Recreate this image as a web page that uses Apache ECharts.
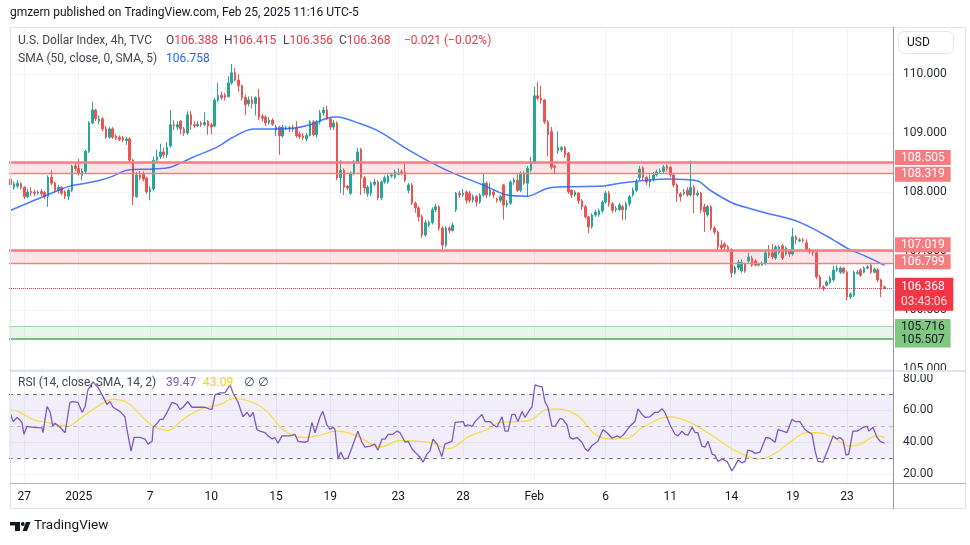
<!DOCTYPE html>
<html><head><meta charset="utf-8">
<script src="https://cdn.jsdelivr.net/npm/echarts@6/dist/echarts.min.js"></script>
<style>html,body{margin:0;padding:0;background:#fff}#c{width:970px;height:545px}</style>
</head><body><div id="c"></div>
<script>
// ---------- data ----------
const tickIndex = [4, 20, 41, 59, 78, 94, 114, 133, 154, 175, 194, 212, 230, 246];
const tickText  = ['27', '2025', '7', '10', '15', '19', '23', '28', 'Feb', '6', '11', '14', '19', '23'];
const barSlots = 260;
// [open, close, low, high]
const candles = [
[108.22,108.12,108.05,108.25],[108.08,108.14,108.04,108.18],[108.10,108.15,108.06,108.20],[108.14,108.08,108.04,108.17],
[108.08,107.92,107.88,108.10],[107.92,108.00,107.90,108.05],[108.01,107.99,107.94,108.08],[108.00,107.98,107.93,108.04],
[107.98,108.00,107.95,108.03],[108.01,107.97,107.93,108.05],[107.99,107.92,107.88,108.02],[107.92,108.25,107.75,108.28],
[108.25,108.15,108.12,108.37],[108.15,108.03,107.98,108.18],[108.03,108.08,107.97,108.12],[108.08,107.98,107.95,108.10],
[108.00,107.93,107.88,108.03],[107.93,108.03,107.86,108.06],[108.03,108.44,108.00,108.46],[108.44,108.40,108.35,108.50],
[108.40,108.32,108.28,108.56],[108.28,108.35,108.20,108.40],[108.35,108.69,108.32,108.72],[108.69,109.17,108.66,109.20],
[109.17,109.39,109.15,109.53],[109.39,109.24,109.20,109.41],[109.20,109.24,109.15,109.30],[109.24,109.07,109.03,109.27],
[109.07,108.93,108.90,109.12],[108.93,109.07,108.90,109.10],[109.07,108.93,108.90,109.10],[108.95,108.91,108.88,108.98],
[108.93,108.89,108.86,108.96],[108.92,108.88,108.85,108.95],[108.87,108.90,108.80,108.93],[108.90,108.54,108.50,108.93],
[108.54,107.92,107.78,108.56],[107.92,108.29,107.90,108.34],[108.29,108.24,108.20,108.36],[108.30,108.22,108.18,108.35],
[108.24,108.00,107.97,108.26],[108.00,108.05,107.86,108.10],[108.05,108.54,108.02,108.60],[108.54,108.60,108.50,108.72],
[108.60,108.68,108.56,108.82],[108.68,108.63,108.58,108.75],[108.63,108.76,108.58,108.85],[108.78,109.14,108.75,109.39],
[109.14,109.12,109.05,109.22],[109.10,109.14,109.05,109.20],[109.20,109.07,108.98,109.22],[109.07,109.00,108.95,109.10],
[109.00,109.31,108.97,109.37],[109.31,109.14,109.05,109.37],[109.14,109.12,109.08,109.20],[109.12,109.15,109.10,109.20],
[109.17,109.14,109.10,109.20],[109.14,109.18,109.12,109.35],[109.20,109.12,108.97,109.22],[109.14,109.10,108.98,109.17],
[109.12,109.56,109.10,109.60],[109.56,109.64,109.52,109.85],[109.64,109.60,109.56,109.70],[109.64,109.60,109.55,109.68],
[109.62,109.85,109.60,109.96],[109.85,110.02,109.82,110.17],[110.02,109.90,109.88,110.10],[109.90,109.80,109.70,110.00],
[109.80,109.60,109.55,109.82],[109.60,109.48,109.30,109.65],[109.50,109.56,109.45,109.62],[109.56,109.50,109.42,109.62],
[109.50,109.60,109.30,109.62],[109.60,109.27,109.22,109.75],[109.28,109.25,109.20,109.32],[109.27,109.17,109.12,109.30],
[109.17,109.22,109.14,109.27],[109.22,109.15,109.12,109.25],[109.05,109.10,108.95,109.14],[109.10,108.95,108.63,109.12],
[108.95,109.10,108.92,109.14],[109.08,109.09,109.05,109.12],[109.09,109.07,109.02,109.12],[109.06,109.09,109.02,109.14],
[109.09,108.95,108.92,109.20],[108.98,108.94,108.90,109.02],[108.95,108.92,108.88,109.00],[108.90,108.96,108.86,109.00],
[108.96,109.19,108.94,109.22],[109.19,108.97,108.94,109.22],[108.97,109.19,108.92,109.22],[109.19,109.34,109.15,109.39],
[109.34,109.39,109.30,109.44],[109.39,109.24,109.22,109.46],[109.24,109.10,109.05,109.27],[109.10,109.17,109.05,109.22],
[109.17,108.24,108.20,109.20],[108.24,108.37,107.98,108.54],[108.37,108.08,107.95,108.40],[108.10,108.07,108.03,108.12],
[107.98,108.32,107.95,108.35],[108.32,108.51,108.28,108.54],[108.51,108.68,108.48,108.75],[108.72,108.24,107.95,108.75],
[108.24,108.07,107.98,108.27],[107.97,108.08,107.92,108.12],[107.98,108.15,107.93,108.18],[108.13,108.17,108.10,108.22],
[108.17,107.90,107.86,108.20],[107.90,108.17,107.86,108.20],[108.17,108.24,108.14,108.28],[108.17,108.27,108.14,108.30],
[108.27,108.29,108.24,108.32],[108.25,108.34,108.22,108.38],[108.30,108.32,108.28,108.40],[108.34,108.32,108.28,108.38],
[108.34,108.20,108.17,108.51],[108.03,108.12,107.98,108.15],[108.12,107.81,107.78,108.15],[107.81,107.73,107.65,107.84],
[107.73,107.58,107.50,107.76],[107.58,107.27,107.22,107.62],[107.27,107.48,107.24,107.53],[107.44,107.48,107.40,107.52],
[107.48,107.70,107.45,107.74],[107.70,107.75,107.66,107.80],[107.75,107.39,107.35,107.78],[107.39,107.10,106.98,107.42],
[107.10,107.39,107.06,107.42],[107.39,107.35,107.30,107.42],[107.35,107.44,107.33,107.48],[107.70,107.98,107.66,108.00],
[107.98,107.95,107.90,108.02],[107.95,107.98,107.92,108.05],[108.00,107.86,107.80,108.03],[107.98,107.86,107.82,108.02],
[107.86,107.92,107.82,107.96],[107.92,107.83,107.76,107.95],[107.83,107.95,107.80,107.98],[107.95,108.15,107.92,108.32],
[108.15,107.95,107.90,108.18],[107.95,108.03,107.92,108.15],[108.00,107.95,107.90,108.05],[107.88,107.86,107.82,107.90],
[107.86,107.92,107.82,107.95],[108.12,107.78,107.53,108.14],[107.78,107.81,107.74,107.86],[107.81,108.17,107.78,108.20],
[108.17,108.20,108.12,108.24],[108.20,108.03,108.00,108.30],[108.03,108.32,108.00,108.35],[108.32,108.15,108.12,108.35],
[108.15,108.40,107.92,108.44],[108.37,108.51,108.34,108.60],[108.51,109.63,108.48,109.78],[109.63,109.59,109.55,109.86],
[109.59,109.56,109.50,109.80],[109.56,109.19,109.15,109.58],[109.19,108.97,108.60,109.22],[109.02,108.42,108.38,109.10],
[108.44,108.42,108.32,108.46],[108.70,108.75,108.65,109.03],[108.72,108.75,108.68,108.78],[108.75,108.63,108.58,108.78],
[108.66,108.00,107.97,108.68],[108.03,107.95,107.90,108.05],[107.95,108.00,107.92,108.03],[107.98,107.85,107.80,108.00],
[107.85,107.75,107.70,107.88],[107.75,107.58,107.55,107.78],[107.58,107.41,107.30,107.60],[107.41,107.61,107.38,107.64],
[107.61,107.66,107.58,107.70],[107.62,107.68,107.58,107.72],[107.68,107.83,107.65,107.86],[107.83,107.98,107.80,108.02],
[107.98,107.80,107.75,108.02],[107.80,107.69,107.65,107.83],[107.70,107.72,107.66,107.76],[107.70,107.78,107.68,107.82],
[107.75,107.70,107.52,107.78],[107.70,107.80,107.53,107.84],[107.80,107.92,107.76,107.95],[107.95,108.03,107.92,108.08],
[108.03,108.17,108.00,108.22],[108.24,108.39,108.20,108.44],[108.41,108.25,108.20,108.44],[108.25,108.17,108.12,108.28],
[108.17,108.20,108.08,108.30],[108.22,108.29,108.18,108.34],[108.29,108.34,108.26,108.38],[108.34,108.36,108.32,108.40],
[108.35,108.42,108.32,108.46],[108.44,108.40,108.35,108.47],[108.42,108.29,108.25,108.44],[108.29,108.12,108.08,108.32],
[108.12,107.97,107.83,108.15],[107.97,107.92,107.84,108.00],[107.97,108.00,107.94,108.05],[108.03,107.95,107.92,108.08],
[107.95,108.08,107.92,108.53],[108.08,107.95,107.64,108.12],[107.95,107.98,107.92,108.03],[107.98,107.70,107.64,108.00],
[107.75,107.66,107.32,107.80],[107.61,107.75,107.58,107.78],[107.75,107.39,107.35,107.78],[107.39,107.32,107.28,107.42],
[107.32,107.07,107.03,107.35],[107.10,107.05,107.00,107.18],[107.12,107.07,107.02,107.15],[107.07,107.02,106.98,107.10],
[107.02,106.63,106.55,107.05],[106.63,106.72,106.60,106.75],[106.72,106.81,106.68,106.85],[106.66,106.81,106.63,106.86],
[106.78,106.66,106.63,106.80],[106.83,106.90,106.80,106.97],[106.88,106.76,106.73,106.92],[106.83,106.76,106.74,106.86],
[106.76,106.78,106.74,106.80],[106.76,106.79,106.75,106.82],[106.79,106.97,106.76,107.00],[106.97,106.93,106.88,107.10],
[106.97,106.90,106.86,107.12],[106.88,107.07,106.85,107.10],[106.97,107.07,106.94,107.10],[107.09,106.88,106.85,107.12],
[106.95,107.05,106.92,107.08],[107.00,106.95,106.90,107.03],[106.95,107.24,106.92,107.39],[107.24,107.19,107.12,107.27],
[107.17,107.19,107.15,107.22],[107.19,107.18,107.14,107.22],[107.14,107.02,106.99,107.20],[107.02,106.99,106.95,107.05],
[107.00,106.97,106.92,107.02],[106.97,106.56,106.52,107.00],[106.56,106.39,106.35,106.60],[106.39,106.36,106.32,106.42],
[106.42,106.47,106.40,106.50],[106.47,106.54,106.44,106.58],[106.51,106.68,106.48,106.75],[106.68,106.71,106.65,106.76],
[106.64,106.71,106.61,106.74],[106.71,106.64,106.61,106.73],[106.64,106.22,106.16,106.67],[106.22,106.27,106.18,106.30],
[106.25,106.64,106.22,106.67],[106.62,106.64,106.60,106.68],[106.68,106.59,106.56,106.71],[106.64,106.71,106.62,106.74],
[106.71,106.73,106.69,106.76],[106.76,106.64,106.61,106.80],[106.64,106.69,106.62,106.72],[106.68,106.51,106.47,106.71],
[106.51,106.39,106.22,106.53],[106.388,106.368,106.356,106.415]
];
// SMA (50, close, 0, SMA, 5): [barIndex, value]
const smaPoints = [[0,107.69],[10.7,107.95],[17.4,108.10],[21.3,108.14],[26.3,108.20],[30.1,108.27],[34.2,108.37],[41.9,108.39],[46.9,108.42],[53.6,108.59],[60.7,108.76],[65.1,108.92],[71.3,109.07],[77.1,109.07],[83,109.08],[88,109.14],[93,109.25],[96,109.27],[102.7,109.16],[108.6,109.02],[115.4,108.77],[123.3,108.51],[130.1,108.32],[138.9,108.12],[146,107.95],[152.1,107.93],[157.7,108.06],[164.5,108.09],[174.2,108.10],[179.2,108.15],[193,108.22],[201.9,108.19],[205.7,108.03],[212.4,107.81],[217.4,107.72],[222.4,107.64],[230.1,107.53],[236,107.38],[241.9,107.19],[246,107.05],[251.9,106.90],[257,106.758]];
// RSI (14): [barIndex, value]
const rsiPoints = [[0,57.5],[0.7,53],[1.9,55.6],[2.7,54],[3.3,52.5],[3.9,45],[4.8,50],[6.6,49.4],[9.2,49],[9.5,46],[10.7,62.5],[11.6,59],[12.4,50],[13,52],[14.5,49.4],[16,46],[17.4,65],[18.3,65.6],[19.8,65],[21,58.8],[21.9,62.5],[22.7,73],[24.2,78],[25.7,74.4],[27.1,69],[28.3,63.8],[29.2,65.6],[30.1,62],[32.1,59.4],[33.6,56],[34.2,48],[35.4,34.4],[36.3,43],[38,43],[39.5,42],[40.4,38.8],[41.6,40.6],[41.9,49.4],[43.3,52.5],[43.9,54.4],[44.8,54.4],[46,58.8],[47.4,65],[48.9,63.8],[49.8,60.6],[50.7,62],[52.1,65.6],[53.3,62],[55.7,62],[57.1,62],[58.3,61],[59.2,60.6],[60.1,70],[61.6,71],[63,71],[64.5,76],[65.4,71],[66.9,65],[68.3,56],[69.5,58.8],[70.4,56],[71.3,58.8],[72.4,48],[73.3,47],[74.8,46],[75.7,44],[76.9,42],[77.7,43],[78.6,39.4],[79.8,44],[82.1,44],[83.6,45],[84.5,40.6],[86.6,40],[87.4,40.6],[88.6,52.5],[89.5,46],[91,56],[91.8,59.4],[93,51],[93.9,48],[94.8,49.4],[95.4,48],[96.3,29.4],[97.1,33.8],[98,29.4],[99.2,30],[100.4,36.9],[102.1,47],[103.3,40],[104.2,36.9],[105.7,37.5],[107.1,38.8],[108,35],[109.2,42],[110.1,42],[111,45],[112.4,45],[113.6,47],[114.5,46],[116,40],[116.9,40.6],[118.1,35.6],[119.5,32.5],[120.4,30.6],[121.3,27.5],[122.4,32.5],[123.3,34.4],[124.2,42],[125.4,38.8],[126.8,31],[127.7,38.8],[129.8,40.6],[130.7,52.5],[133.1,53],[133.6,50],[134.5,51],[135.7,50],[136.6,53],[137.2,54.4],[138.6,57.5],[139.5,53],[141,53],[141.9,51],[143,49.4],[144.5,56],[145.4,47],[146.3,47],[147.4,57.5],[148.3,57.5],[149.2,53],[150.4,59.4],[151.3,55.6],[152.7,60.6],[153.3,62],[154.2,76],[155.7,75],[156.3,75],[157.1,65.6],[158,62],[159.2,50],[160.1,50],[161.6,55],[162.4,54.4],[163.6,51],[164.5,43],[165.4,42],[166.6,43],[168,40],[168.9,36],[169.8,34.4],[171,38],[172.7,40.6],[174.2,48],[175.4,46],[176.9,42.5],[178.3,44],[179.2,43],[180.1,44.4],[182.1,50],[183.6,53],[184.5,61],[185.7,57.5],[186.6,55.6],[188,56],[189.5,58.8],[190.4,58.8],[191.6,61],[192.4,58.8],[193.9,51],[195.4,45],[196.3,44],[197.4,47],[198.3,45],[199.2,44.4],[200.4,49.4],[201.3,46],[202.1,46],[203.3,37.5],[204.2,36.9],[205.1,40.6],[206.3,32.5],[207.1,31.9],[208,28],[209.2,29.4],[210.7,28],[212.1,21.9],[213,25],[213.9,28.8],[215.1,27],[216,28],[216.8,35],[218,34.4],[218.9,33],[220.4,33.8],[220.9,33.8],[222.1,43],[223.3,42.5],[224.8,40],[225.7,48],[227.1,47],[228.3,46],[229.8,54.4],[230.7,53],[232.1,53],[233.6,48],[234.2,47],[235.7,45],[236.6,34.4],[237.4,28],[238.9,27.5],[240.4,35.6],[241.9,44],[243,42],[243.9,43],[244.8,41.3],[245.7,31.9],[246.5,32.5],[247.7,47],[248.9,47],[249.8,48],[250.7,49.4],[251.9,50],[252.4,47],[253.6,49.4],[254.8,43],[255.7,40.6],[257,39.47]];
// SMA of RSI (14)
const rsiSmaPoints = [[0,60.6],[2.7,58.8],[6.6,54.4],[10.7,52.5],[16.6,50],[20.4,55],[24.2,60.6],[30.1,67],[34.2,65],[38,57.5],[41.9,50],[46.3,47.5],[50.7,54.4],[55.7,60.6],[61.6,63.8],[65.4,67.5],[71.3,65],[75.4,59.4],[80.1,48],[86,43],[90.1,44],[96,47],[101.9,44],[108.6,37],[114.5,41],[120.4,40.6],[124.2,39.4],[128.6,36],[135.1,44],[140.1,48],[143.9,52.5],[149.8,53],[153.3,54.4],[157.7,60.6],[160.7,61],[163.6,60],[167.4,55.6],[171.9,45],[176.3,42],[181.3,42.5],[186,49.4],[193.9,56],[199.8,52.5],[205.7,45],[212.4,35.6],[217.4,30.6],[220.4,29.4],[225.4,33.8],[229.2,40],[234.2,46],[237.1,46],[241.9,43],[246.8,37.5],[249.8,38.8],[254.8,44],[257,43.09]];
const redZoneTop = [108.505, 107.019];
const redZoneBottom = [108.319, 106.799];
const greenZone = [105.716, 105.507];
const lastPrice = 106.368;
const barCountdown = '03:43:06';
const rsiLevels = [70, 50, 30];
const priceRange = [104.983, 110.797];
const rsiRange = [14.36, 84.8];
const ohlcText = ['106.388', '106.415', '106.356', '106.368'];
const changeText = '\u22120.021 (\u22120.02%)';
const smaLast = '106.758';
const rsiLast = '39.47';
const rsiSmaLast = '43.09';

// ---------- chart ----------
const FONT = 'Roboto, "Noto Sans", "DejaVu Sans", sans-serif';
const cats = Array.from({length: barSlots}, (_, i) => String(i));
const labelAt = {};
tickIndex.forEach((k, j) => { labelAt[k] = tickText[j]; });
const isTick = (i) => labelAt[i] !== undefined;

function tag(v, bg, fg, dy) {
  return {show: true, position: 'end', distance: 2, formatter: v.toFixed(3), backgroundColor: bg, color: fg,
          padding: [2, 6, 1, 6], fontSize: 12, fontFamily: FONT, offset: [0, dy]};
}
const RED = '#f77c80', GREEN = '#81c784';

const priceMarkLines = [
  {yAxis: redZoneTop[0], lineStyle: {color: RED, width: 2.5, type: 'solid'}, label: tag(redZoneTop[0], RED, '#fff', -5)},
  {yAxis: redZoneBottom[0], lineStyle: {color: RED, width: 1.3, type: 'solid'}, label: tag(redZoneBottom[0], RED, '#fff', 1)},
  {yAxis: redZoneTop[1], lineStyle: {color: RED, width: 2.5, type: 'solid'}, label: tag(redZoneTop[1], RED, '#fff', -5)},
  {yAxis: redZoneBottom[1], lineStyle: {color: RED, width: 1.3, type: 'solid'}, label: tag(redZoneBottom[1], RED, '#fff', -1)},
  {yAxis: greenZone[0], lineStyle: {color: '#a5d6a7', width: 1, type: 'solid'}, label: tag(greenZone[0], GREEN, '#131722', 0)},
  {yAxis: greenZone[1], lineStyle: {color: '#4caf50', width: 1.5, type: 'solid'}, label: tag(greenZone[1], GREEN, '#131722', 1)},
  {yAxis: lastPrice, lineStyle: {color: '#f23645', width: 1, type: 'dotted'},
   label: {show: true, position: 'end', distance: 2, backgroundColor: '#f23645', padding: [2, 6, 1, 6], offset: [0, 6],
     formatter: '{a|' + lastPrice.toFixed(3) + '}\n{b|' + barCountdown + '}',
     rich: {a: {color: '#fff', fontSize: 12, lineHeight: 15, fontFamily: FONT}, b: {color: '#ffd8da', fontSize: 12, lineHeight: 15, fontFamily: FONT}}}}
];

const legendBase = {fontSize: 12, color: '#434651', fontWeight: 'normal', fontFamily: FONT};
const rich = {k: {color: '#434651', fontSize: 12, fontFamily: FONT}, v: {color: '#f23645', fontSize: 12, fontFamily: FONT}};
function t(text, left, top, extra) {
  return {text: text, left: left, top: top, padding: 0, textStyle: Object.assign({}, legendBase, {rich: rich}, extra || {})};
}

const option = {
  animation: false,
  backgroundColor: '#fff',
  textStyle: {fontFamily: FONT},
  title: [
    t('gmzern published on TradingView.com, Feb 25, 2025 11:16 UTC-5', 10, 7, {fontSize: 12, color: '#131722'}),
    t('U.S. Dollar Index, 4h, TVC', 18, 35),
    t('{k|O}{v|' + ohlcText[0] + '}', 166, 35),
    t('{k|H}{v|' + ohlcText[1] + '}', 224, 35),
    t('{k|L}{v|' + ohlcText[2] + '}', 283, 35),
    t('{k|C}{v|' + ohlcText[3] + '}', 339, 35),
    t('{v|' + changeText + '}', 404, 35),
    t('SMA (50, close, 0, SMA, 5)', 18, 53),
    t(smaLast, 166, 53, {color: '#2962ff'}),
    t('RSI (14, close, SMA, 14, 2)', 18, 377),
    t(rsiLast, 166, 377, {color: '#7e57c2'}),
    t(rsiSmaLast, 203, 377, {color: '#f2d21b'}),
    t('\u2205', 244, 377),
    t('\u2205', 258, 377),
    {text: 'USD', left: 898, top: 31, padding: [6, 24, 5, 9], borderColor: '#e0e3eb', borderWidth: 1, borderRadius: 6,
     backgroundColor: '#fff', textStyle: {fontSize: 12, color: '#131722', fontWeight: 'normal', fontFamily: FONT}}
  ],
  grid: [
    {left: 9, right: 77, top: 27, height: 343},
    {left: 9, right: 77, top: 371, height: 112}
  ],
  xAxis: [
    {type: 'category', gridIndex: 0, data: cats, boundaryGap: true, axisLine: {show: false}, axisTick: {show: false},
     axisLabel: {show: false}, splitLine: {show: true, interval: isTick, alignWithLabel: true, lineStyle: {color: '#f0f3fa', width: 1}}},
    {type: 'category', gridIndex: 1, data: cats, boundaryGap: true, axisLine: {show: false}, axisTick: {show: false},
     axisLabel: {show: true, interval: isTick, formatter: (v, i) => labelAt[i] || '', color: '#131722', fontSize: 12, margin: 8, fontFamily: FONT},
     splitLine: {show: true, interval: isTick, alignWithLabel: true, lineStyle: {color: '#f0f3fa', width: 1}}},
    {type: 'value', gridIndex: 0, min: -0.5, max: barSlots - 0.5, show: false},
    {type: 'value', gridIndex: 1, min: -0.5, max: barSlots - 0.5, show: false}
  ],
  yAxis: [
    {type: 'value', gridIndex: 0, position: 'right', min: priceRange[0], max: priceRange[1],
     axisLine: {show: false}, axisTick: {show: false}, splitLine: {lineStyle: {color: '#f0f3fa'}},
     axisLabel: {formatter: v => v.toFixed(3), color: '#2a2e39', fontSize: 12, margin: 10, padding: [4, 0, 0, 0], showMinLabel: false, showMaxLabel: false, fontFamily: FONT}},
    {type: 'value', gridIndex: 1, position: 'right', min: rsiRange[0], max: rsiRange[1], splitNumber: 3,
     axisLine: {show: false}, axisTick: {show: false}, splitLine: {lineStyle: {color: '#f0f3fa'}},
     axisLabel: {formatter: v => v.toFixed(2), color: '#2a2e39', fontSize: 12, margin: 10, padding: [4, 0, 0, 0], showMinLabel: false, showMaxLabel: false, fontFamily: FONT}}
  ],
  series: [
    {type: 'candlestick', xAxisIndex: 0, yAxisIndex: 0, data: candles, barWidth: 2.2,
     itemStyle: {color: '#26a69a', color0: '#ef5350', borderColor: '#26a69a', borderColor0: '#ef5350', borderWidth: 1},
     markArea: {silent: true, data: [
       [{yAxis: redZoneTop[0], itemStyle: {color: 'rgba(242,54,69,0.13)'}}, {yAxis: redZoneBottom[0]}],
       [{yAxis: redZoneTop[1], itemStyle: {color: 'rgba(242,54,69,0.13)'}}, {yAxis: redZoneBottom[1]}],
       [{yAxis: greenZone[0], itemStyle: {color: 'rgba(76,175,80,0.13)'}}, {yAxis: greenZone[1]}]
     ]},
     markLine: {silent: true, symbol: ['none', 'none'], animation: false, data: priceMarkLines}
    },
    {type: 'line', name: 'SMA', xAxisIndex: 2, yAxisIndex: 0, data: smaPoints, symbol: 'none', smooth: 0.3,
     lineStyle: {color: '#2962ff', width: 1.5, opacity: 0.85}, z: 3},
    {type: 'line', name: 'RSI', xAxisIndex: 3, yAxisIndex: 1, data: rsiPoints, symbol: 'none',
     lineStyle: {color: '#7e57c2', width: 1.3}, z: 4,
     markArea: {silent: true, data: [[{yAxis: rsiLevels[0], itemStyle: {color: 'rgba(126,87,194,0.1)'}}, {yAxis: rsiLevels[2]}]]},
     markLine: {silent: true, symbol: ['none', 'none'], label: {show: false}, data: [
       {yAxis: rsiLevels[0], lineStyle: {color: '#787b86', width: 1, type: [4, 4]}},
       {yAxis: rsiLevels[1], lineStyle: {color: 'rgba(120,123,134,0.5)', width: 1, type: [4, 4]}},
       {yAxis: rsiLevels[2], lineStyle: {color: '#787b86', width: 1, type: [4, 4]}}
     ]}},
    {type: 'line', name: 'RSI SMA', xAxisIndex: 3, yAxisIndex: 1, data: rsiSmaPoints, symbol: 'none', smooth: 0.4,
     lineStyle: {color: '#f7dc3a', width: 1.2}, z: 3}
  ],
  graphic: [
    {type: 'rect', z: 50, silent: true, shape: {x: 894, y: 370, width: 71, height: 4}, style: {fill: '#fff'}},
    {type: 'rect', z: 51, silent: true, shape: {x: 10.5, y: 27.5, width: 955, height: 481}, style: {fill: 'none', stroke: '#e0e3eb', lineWidth: 1}},
    {type: 'line', z: 51, silent: true, shape: {x1: 10, y1: 371, x2: 966, y2: 371}, style: {stroke: '#c9ccd4', lineWidth: 1}},
    {type: 'line', z: 51, silent: true, shape: {x1: 10, y1: 483.5, x2: 966, y2: 483.5}, style: {stroke: '#b2b5be', lineWidth: 1}},
    {type: 'line', z: 51, silent: true, shape: {x1: 893.5, y1: 27, x2: 893.5, y2: 509}, style: {stroke: '#9598a1', lineWidth: 1}},
    {type: 'polygon', z: 51, silent: true, shape: {points: [[10,522],[20,522],[20,531],[15,531],[15,525.5],[10,525.5]]}, style: {fill: '#131722'}},
    {type: 'circle', z: 51, silent: true, shape: {cx: 22.8, cy: 524, r: 1.9}, style: {fill: '#131722'}},
    {type: 'polygon', z: 51, silent: true, shape: {points: [[26,522],[30.5,522],[27,531],[22.5,531]]}, style: {fill: '#131722'}},
    {type: 'text', z: 51, silent: true, left: 34, top: 519, style: {text: 'TradingView', fill: '#131722', fontSize: 13.5, fontFamily: FONT}}
  ]
};
echarts.init(document.getElementById('c'), null, {renderer: 'canvas'}).setOption(option);
</script></body></html>
